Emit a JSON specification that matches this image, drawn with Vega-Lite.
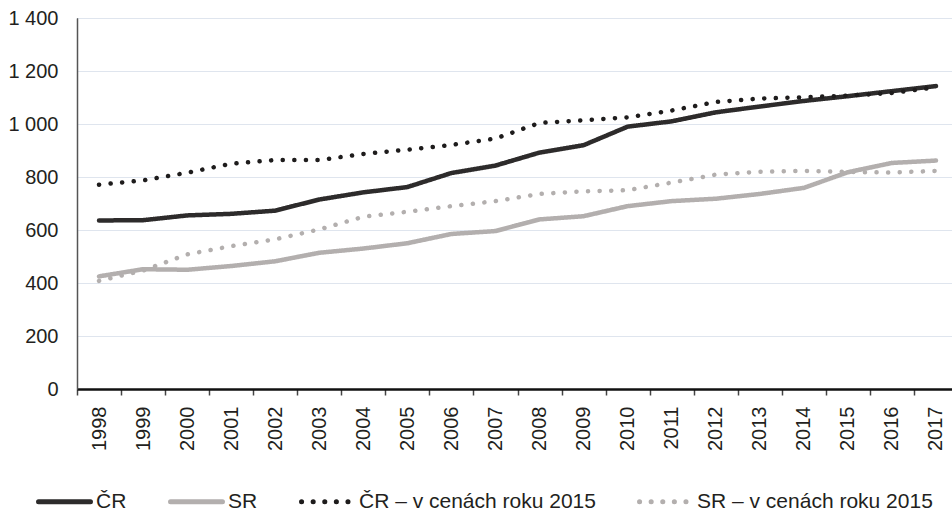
{
  "$schema": "https://vega.github.io/schema/vega-lite/v6.json",
  "width": 881,
  "height": 371,
  "autosize": "none",
  "padding": {"left": 77, "top": 18, "right": 0, "bottom": 123},
  "background": "white",
  "config": {
    "font": "Liberation Sans",
    "view": {"stroke": "#222222", "strokeWidth": 1}
  },
  "data": {
    "values": [
      {"year": "1998", "series": "ČR", "value": 636},
      {"year": "1999", "series": "ČR", "value": 637},
      {"year": "2000", "series": "ČR", "value": 655},
      {"year": "2001", "series": "ČR", "value": 661},
      {"year": "2002", "series": "ČR", "value": 673},
      {"year": "2003", "series": "ČR", "value": 715},
      {"year": "2004", "series": "ČR", "value": 742},
      {"year": "2005", "series": "ČR", "value": 762},
      {"year": "2006", "series": "ČR", "value": 815},
      {"year": "2007", "series": "ČR", "value": 843},
      {"year": "2008", "series": "ČR", "value": 892},
      {"year": "2009", "series": "ČR", "value": 920},
      {"year": "2010", "series": "ČR", "value": 990},
      {"year": "2011", "series": "ČR", "value": 1010},
      {"year": "2012", "series": "ČR", "value": 1044},
      {"year": "2013", "series": "ČR", "value": 1066},
      {"year": "2014", "series": "ČR", "value": 1087},
      {"year": "2015", "series": "ČR", "value": 1105},
      {"year": "2016", "series": "ČR", "value": 1124},
      {"year": "2017", "series": "ČR", "value": 1143},
      {"year": "1998", "series": "SR", "value": 425},
      {"year": "1999", "series": "SR", "value": 452},
      {"year": "2000", "series": "SR", "value": 450},
      {"year": "2001", "series": "SR", "value": 464},
      {"year": "2002", "series": "SR", "value": 482},
      {"year": "2003", "series": "SR", "value": 514},
      {"year": "2004", "series": "SR", "value": 530},
      {"year": "2005", "series": "SR", "value": 550},
      {"year": "2006", "series": "SR", "value": 585},
      {"year": "2007", "series": "SR", "value": 596},
      {"year": "2008", "series": "SR", "value": 640},
      {"year": "2009", "series": "SR", "value": 652},
      {"year": "2010", "series": "SR", "value": 690},
      {"year": "2011", "series": "SR", "value": 709},
      {"year": "2012", "series": "SR", "value": 718},
      {"year": "2013", "series": "SR", "value": 736},
      {"year": "2014", "series": "SR", "value": 759},
      {"year": "2015", "series": "SR", "value": 818},
      {"year": "2016", "series": "SR", "value": 853},
      {"year": "2017", "series": "SR", "value": 862},
      {"year": "1998", "series": "ČR – v cenách roku 2015", "value": 771},
      {"year": "1999", "series": "ČR – v cenách roku 2015", "value": 787},
      {"year": "2000", "series": "ČR – v cenách roku 2015", "value": 816},
      {"year": "2001", "series": "ČR – v cenách roku 2015", "value": 850},
      {"year": "2002", "series": "ČR – v cenách roku 2015", "value": 864},
      {"year": "2003", "series": "ČR – v cenách roku 2015", "value": 864},
      {"year": "2004", "series": "ČR – v cenách roku 2015", "value": 887},
      {"year": "2005", "series": "ČR – v cenách roku 2015", "value": 903},
      {"year": "2006", "series": "ČR – v cenách roku 2015", "value": 921},
      {"year": "2007", "series": "ČR – v cenách roku 2015", "value": 945},
      {"year": "2008", "series": "ČR – v cenách roku 2015", "value": 1004},
      {"year": "2009", "series": "ČR – v cenách roku 2015", "value": 1014},
      {"year": "2010", "series": "ČR – v cenách roku 2015", "value": 1025},
      {"year": "2011", "series": "ČR – v cenách roku 2015", "value": 1051},
      {"year": "2012", "series": "ČR – v cenách roku 2015", "value": 1083},
      {"year": "2013", "series": "ČR – v cenách roku 2015", "value": 1096},
      {"year": "2014", "series": "ČR – v cenách roku 2015", "value": 1101},
      {"year": "2015", "series": "ČR – v cenách roku 2015", "value": 1107},
      {"year": "2016", "series": "ČR – v cenách roku 2015", "value": 1117},
      {"year": "2017", "series": "ČR – v cenách roku 2015", "value": 1139},
      {"year": "1998", "series": "SR – v cenách roku 2015", "value": 408},
      {"year": "1999", "series": "SR – v cenách roku 2015", "value": 447},
      {"year": "2000", "series": "SR – v cenách roku 2015", "value": 508},
      {"year": "2001", "series": "SR – v cenách roku 2015", "value": 539},
      {"year": "2002", "series": "SR – v cenách roku 2015", "value": 565},
      {"year": "2003", "series": "SR – v cenách roku 2015", "value": 602},
      {"year": "2004", "series": "SR – v cenách roku 2015", "value": 650},
      {"year": "2005", "series": "SR – v cenách roku 2015", "value": 669},
      {"year": "2006", "series": "SR – v cenách roku 2015", "value": 690},
      {"year": "2007", "series": "SR – v cenách roku 2015", "value": 709},
      {"year": "2008", "series": "SR – v cenách roku 2015", "value": 736},
      {"year": "2009", "series": "SR – v cenách roku 2015", "value": 746},
      {"year": "2010", "series": "SR – v cenách roku 2015", "value": 750},
      {"year": "2011", "series": "SR – v cenách roku 2015", "value": 779},
      {"year": "2012", "series": "SR – v cenách roku 2015", "value": 809},
      {"year": "2013", "series": "SR – v cenách roku 2015", "value": 820},
      {"year": "2014", "series": "SR – v cenách roku 2015", "value": 823},
      {"year": "2015", "series": "SR – v cenách roku 2015", "value": 819},
      {"year": "2016", "series": "SR – v cenách roku 2015", "value": 817},
      {"year": "2017", "series": "SR – v cenách roku 2015", "value": 823}
    ]
  },
  "mark": {"type": "line", "strokeWidth": 4.5, "strokeCap": "round", "strokeJoin": "round"},
  "encoding": {
    "x": {
      "field": "year",
      "type": "ordinal",
      "bandPosition": 0.5,
      "scale": {"type": "band", "paddingInner": 0, "paddingOuter": 0},
      "axis": {
        "title": null,
        "labelAngle": -90,
        "labelFontSize": 20,
        "labelColor": "#231f20",
        "labelPadding": 11,
        "tickBand": "extent",
        "tickSize": 6,
        "tickColor": "#444444",
        "tickWidth": 1.5,
        "domainColor": "#111111",
        "domainWidth": 2.5,
        "grid": false
      }
    },
    "y": {
      "field": "value",
      "type": "quantitative",
      "scale": {"domain": [0, 1400], "nice": false},
      "axis": {
        "title": null,
        "values": [0, 200, 400, 600, 800, 1000, 1200, 1400],
        "labelExpr": "replace(format(datum.value, ','), ',', ' ')",
        "labelFontSize": 20,
        "labelColor": "#231f20",
        "labelPadding": 19,
        "ticks": false,
        "domainColor": "#555555",
        "domainWidth": 1.5,
        "grid": true,
        "gridColor": "#dfe5ee",
        "gridWidth": 1.2
      }
    },
    "color": {
      "field": "series",
      "type": "nominal",
      "scale": {
        "domain": ["ČR", "SR", "ČR – v cenách roku 2015", "SR – v cenách roku 2015"],
        "range": ["#2d2b2b", "#b3afae", "#1e1c1c", "#b3afae"]
      },
      "legend": {
        "title": null,
        "orient": "none",
        "direction": "horizontal",
        "legendX": -41,
        "legendY": 455,
        "symbolType": "stroke",
        "symbolSize": 2700,
        "symbolStrokeWidth": 5,
        "labelFontSize": 21,
        "labelColor": "#231f20",
        "labelLimit": 400,
        "labelOffset": 3,
        "columnPadding": 33,
        "encode": {"symbols": {"update": {"strokeCap": {"value": "round"}}}}
      }
    },
    "strokeDash": {
      "field": "series",
      "type": "nominal",
      "scale": {
        "domain": ["ČR", "SR", "ČR – v cenách roku 2015", "SR – v cenách roku 2015"],
        "range": [[1, 0], [1, 0], [0.1, 11.5], [0.1, 11.5]]
      },
      "legend": null
    }
  }
}
